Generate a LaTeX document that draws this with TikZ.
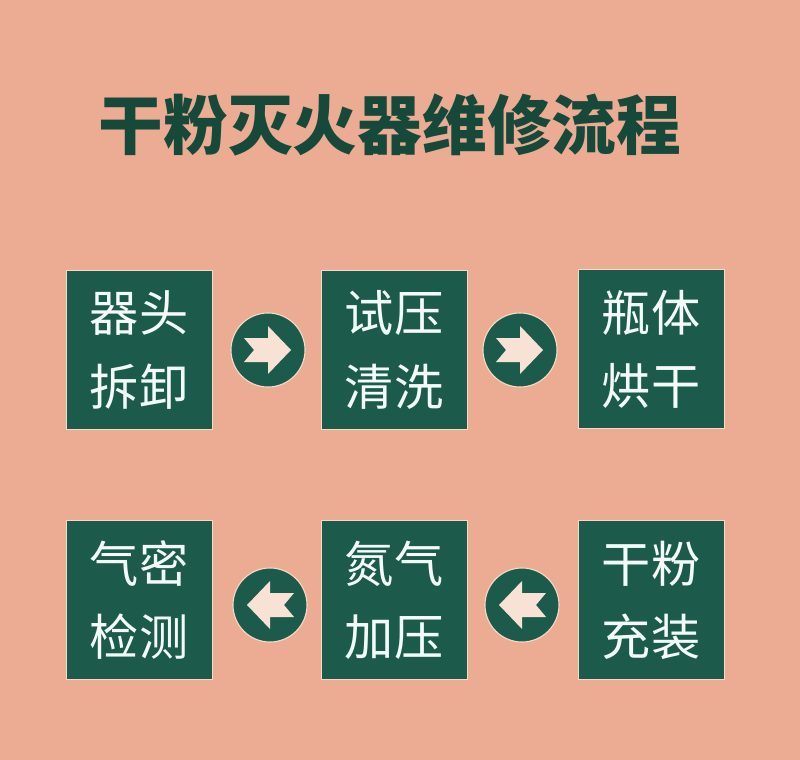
\documentclass[tikz,border=0pt]{standalone}
\usepackage{fontspec}
\newfontfamily\cjk{Noto Sans CJK SC}
\usepackage{tikz}
\usetikzlibrary{arrows.meta}
\definecolor{bgpeach}{HTML}{ECAC94}
\definecolor{boxgreen}{HTML}{1C5B4B}
\definecolor{titlegreen}{HTML}{17493A}
\definecolor{rimcream}{HTML}{F6D9C6}
\definecolor{arrowpeach}{HTML}{F8E2D6}
\definecolor{textwhite}{HTML}{F3FBF9}

\begin{document}
\begin{tikzpicture}[x=0.025cm, y=-0.025cm]
  \tikzstyle{stepbox}=[rectangle, fill=boxgreen, draw=rimcream, line width=0.6pt,
    minimum width=3.65cm, minimum height=3.975cm, inner sep=0pt,
    text=textwhite, align=center, font=\cjk\fontsize{35}{52}\selectfont]
  \tikzstyle{stepcirc}=[circle, fill=boxgreen, draw=rimcream, line width=0.8pt,
    minimum size=1.85cm, inner sep=0pt]
  \tikzstyle{arrowfill}=[fill=arrowpeach]
  \fill[bgpeach] (0,0) rectangle (800,760);
  \useasboundingbox (0,0) rectangle (800,760);
  % title
  \node[text=titlegreen, font=\cjk\bfseries\fontsize{46}{50}\selectfont] (title) at (390,125) {干粉灭火器维修流程};
  % top row
  \node[stepbox] (S_1) at (139,350) {器头\\拆卸};
  \node[stepbox] (S_2) at (394,350) {试压\\清洗};
  \node[stepbox] (S_3) at (651,349) {瓶体\\烘干};
  % bottom row
  \node[stepbox] (S_6) at (139,600) {气密\\检测};
  \node[stepbox] (S_5) at (394,600) {氮气\\加压};
  \node[stepbox] (S_4) at (651,600) {干粉\\充装};
  % arrows between steps
  \node[stepcirc] (A_1) at (268,350) {};
  \node[stepcirc] (A_2) at (520,350) {};
  \node[stepcirc] (A_3) at (522,605) {};
  \node[stepcirc] (A_4) at (270,605) {};
  \foreach \c/\d in {A_1/1, A_2/1, A_3/-1, A_4/-1}
    \fill[arrowfill, shift={(\c.center)}, xscale=\d]
      (-24,-12) -- (0,-12) -- (0,-24) -- (23,0) -- (0,24) -- (0,12)
      -- (-24,12) -- (-14,0) -- cycle;
\end{tikzpicture}
\end{document}
